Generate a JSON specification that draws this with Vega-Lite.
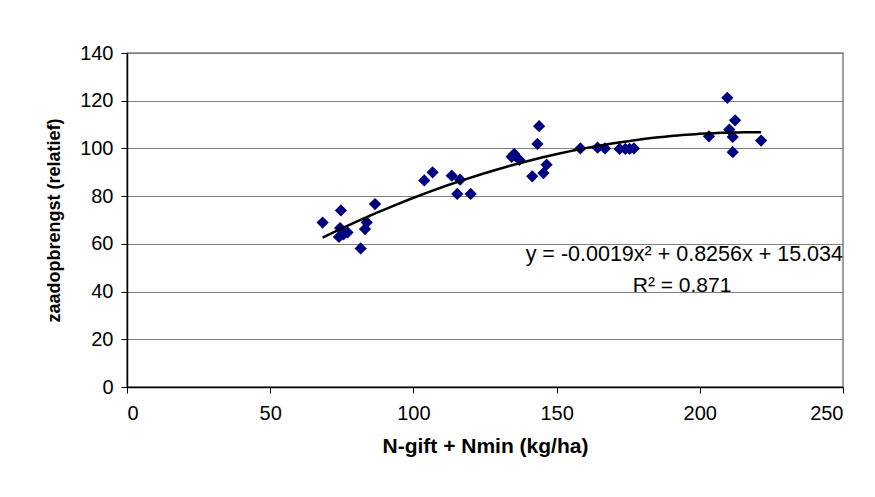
{
  "$schema": "https://vega.github.io/schema/vega-lite/v6.json",
  "autosize": {"type": "none"},
  "padding": {"left": 127, "top": 53, "right": 32, "bottom": 110},
  "width": 716,
  "height": 334,
  "background": "white",
  "config": {
    "font": "Liberation Sans",
    "view": {"stroke": "#808080", "strokeWidth": 1.5},
    "axis": {
      "labelFont": "Liberation Sans",
      "titleFont": "Liberation Sans",
      "labelFontSize": 20,
      "titleFontSize": 20,
      "labelColor": "black",
      "titleColor": "black",
      "domainColor": "black",
      "tickColor": "black",
      "domainWidth": 1.5,
      "tickWidth": 1,
      "tickSize": 6
    }
  },
  "datasets": {
    "points": [
      {"n": 68.3, "opbrengst": 68.9},
      {"n": 74.7, "opbrengst": 74.0},
      {"n": 74.4, "opbrengst": 66.6},
      {"n": 74.0, "opbrengst": 62.9},
      {"n": 77.0, "opbrengst": 64.8},
      {"n": 75.6, "opbrengst": 64.0},
      {"n": 81.6, "opbrengst": 58.1},
      {"n": 83.7, "opbrengst": 69.0},
      {"n": 83.1, "opbrengst": 66.2},
      {"n": 86.6, "opbrengst": 76.7},
      {"n": 103.8, "opbrengst": 86.6},
      {"n": 106.7, "opbrengst": 90.0},
      {"n": 113.4, "opbrengst": 88.6},
      {"n": 116.3, "opbrengst": 86.9},
      {"n": 115.3, "opbrengst": 80.9},
      {"n": 120.0, "opbrengst": 80.9},
      {"n": 134.3, "opbrengst": 96.5},
      {"n": 135.2, "opbrengst": 97.7},
      {"n": 137.0, "opbrengst": 95.2},
      {"n": 141.5, "opbrengst": 88.3},
      {"n": 145.4, "opbrengst": 89.7},
      {"n": 146.5, "opbrengst": 93.2},
      {"n": 143.9, "opbrengst": 109.3},
      {"n": 143.3, "opbrengst": 101.9},
      {"n": 158.3, "opbrengst": 100.0},
      {"n": 164.3, "opbrengst": 100.3},
      {"n": 166.9, "opbrengst": 100.0},
      {"n": 172.0, "opbrengst": 99.8},
      {"n": 174.0, "opbrengst": 99.8},
      {"n": 175.5, "opbrengst": 99.8},
      {"n": 177.0, "opbrengst": 100.0},
      {"n": 203.2, "opbrengst": 105.1},
      {"n": 209.6, "opbrengst": 121.2},
      {"n": 212.3, "opbrengst": 111.8},
      {"n": 210.3, "opbrengst": 107.9},
      {"n": 211.5, "opbrengst": 104.8},
      {"n": 211.5, "opbrengst": 98.4},
      {"n": 221.4, "opbrengst": 103.3}
    ],
    "eq": [
      {"n": 250, "opbrengst": 55.4, "label": "y = -0.0019x² + 0.8256x + 15.034"}
    ],
    "r2": [
      {"n": 193.8, "opbrengst": 42.4, "label": "R² = 0.871"}
    ]
  },
  "layer": [
    {
      "data": {"name": "points"},
      "mark": {"type": "point", "shape": "diamond", "filled": true, "color": "#000080", "size": 150, "opacity": 1},
      "encoding": {
        "x": {
          "field": "n", "type": "quantitative",
          "scale": {"domain": [0, 250], "nice": false},
          "axis": {"values": [0, 50, 100, 150, 200, 250], "grid": false, "title": "N-gift + Nmin (kg/ha)", "titleFontWeight": "bold", "titleFontSize": 21, "titlePadding": 12, "labelPadding": 10}
        },
        "y": {
          "field": "opbrengst", "type": "quantitative",
          "scale": {"domain": [0, 140], "nice": false},
          "axis": {"values": [0, 20, 40, 60, 80, 100, 120, 140], "grid": true, "gridColor": "#808080", "gridWidth": 1.2, "title": "zaadopbrengst (relatief)", "titleFontWeight": "bold", "titleFontSize": 18, "titlePadding": 16, "labelPadding": 8}
        }
      }
    },
    {
      "data": {"name": "points"},
      "transform": [{"regression": "opbrengst", "on": "n", "method": "poly", "order": 2}],
      "mark": {"type": "line", "color": "black", "strokeWidth": 2.5},
      "encoding": {
        "x": {"field": "n", "type": "quantitative"},
        "y": {"field": "opbrengst", "type": "quantitative"}
      }
    },
    {
      "data": {"name": "eq"},
      "mark": {"type": "text", "fontSize": 21.5, "color": "black", "baseline": "middle", "align": "right", "font": "Liberation Sans"},
      "encoding": {
        "x": {"field": "n", "type": "quantitative"},
        "y": {"field": "opbrengst", "type": "quantitative"},
        "text": {"field": "label"}
      }
    },
    {
      "data": {"name": "r2"},
      "mark": {"type": "text", "fontSize": 21, "color": "black", "baseline": "middle", "align": "center", "font": "Liberation Sans"},
      "encoding": {
        "x": {"field": "n", "type": "quantitative"},
        "y": {"field": "opbrengst", "type": "quantitative"},
        "text": {"field": "label"}
      }
    }
  ]
}
